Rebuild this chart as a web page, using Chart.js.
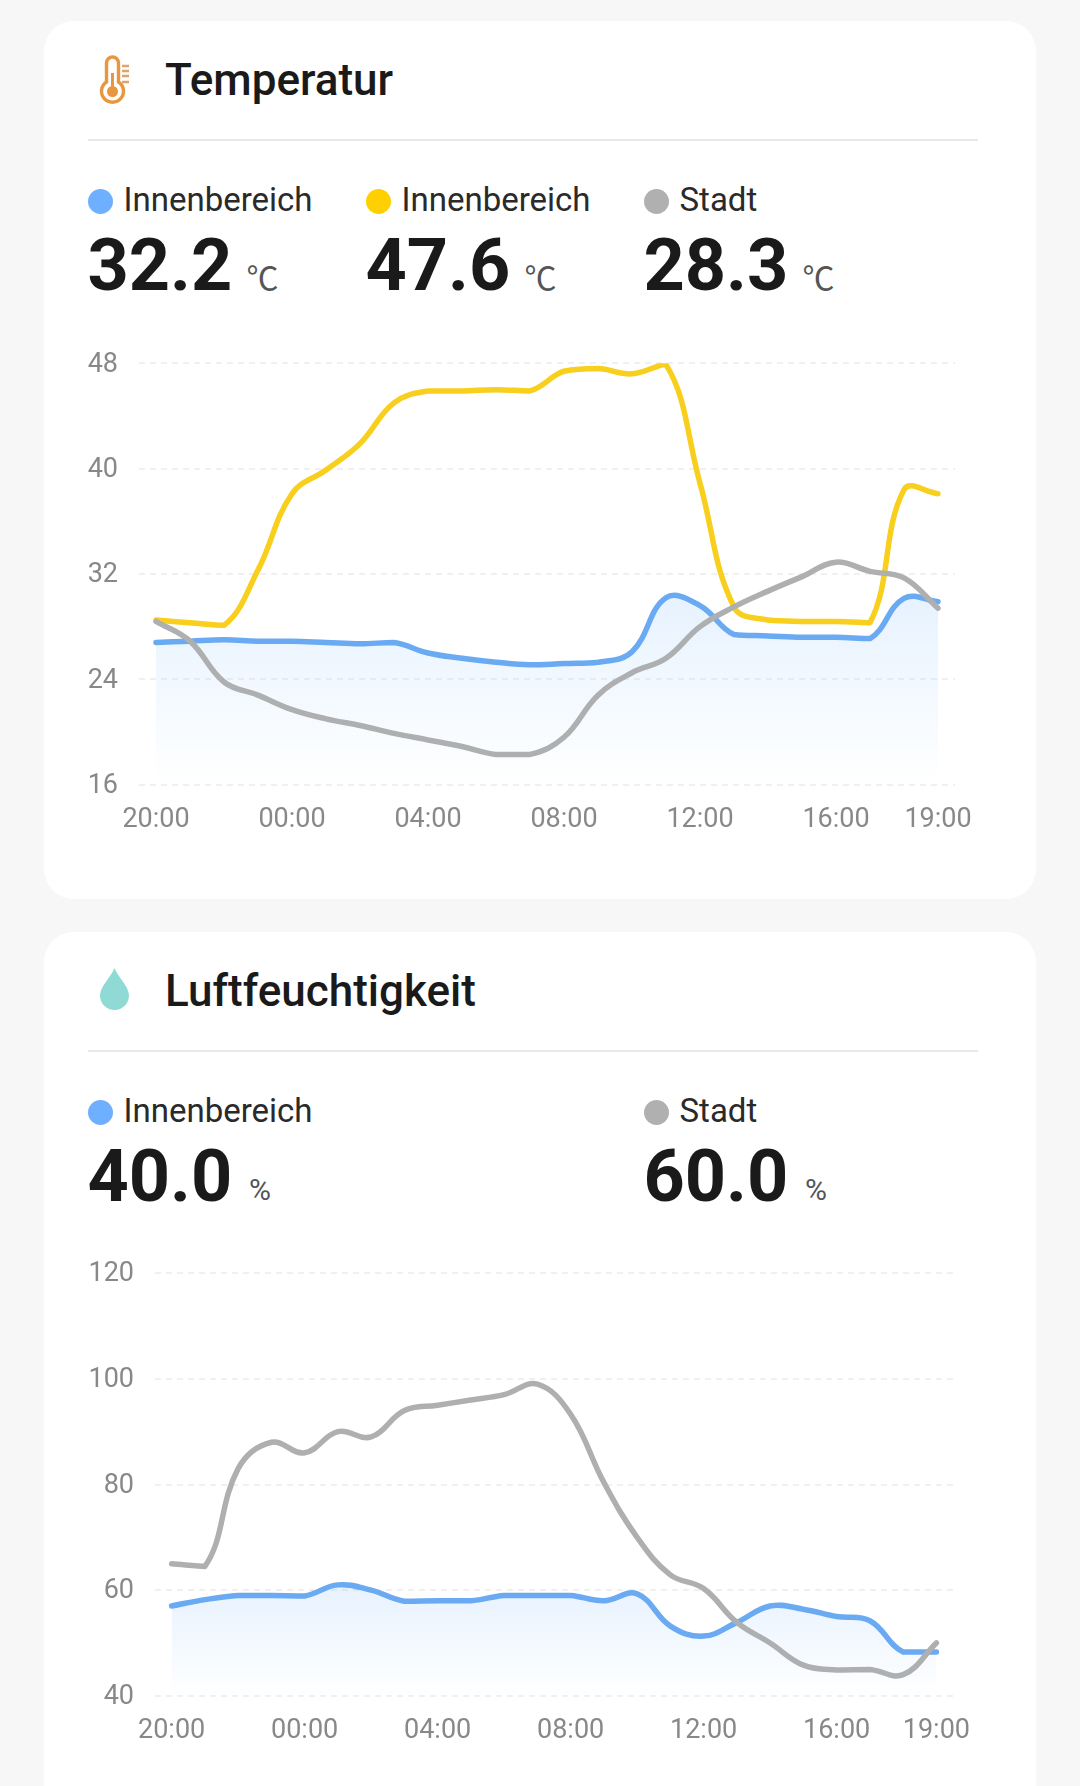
<!DOCTYPE html>
<html lang="de">
<head>
<meta charset="utf-8">
<title>Temperatur und Luftfeuchtigkeit</title>
<script src="https://cdn.jsdelivr.net/npm/chart.js@4"></script>
<style>
html,body{margin:0;padding:0;background:#f7f7f7;width:1080px;height:1786px;overflow:hidden;font-family:Roboto,sans-serif}
.card{position:absolute;left:44px;width:992px;background:#fff;border-radius:30px}
#c1{top:21px;height:878px}
#c2{top:932px;height:900px}
.abs{position:absolute;white-space:nowrap}
.title{left:121px;top:33px;font-size:44px;line-height:52px;font-weight:500;color:#1a1a1a}
.sep{left:44px;top:118px;width:890px;height:2px;background:#e9e9e9}
.dot{width:25px;height:25px;border-radius:50%;top:168px}
.leg{top:158px;font-size:33px;line-height:42px;color:#2a2a2a}
.val{top:203px;font-size:72px;line-height:84px;font-weight:700;color:#1a1a1a}
.unit{top:235px;font-size:32px;line-height:40px;color:#555;font-family:"Noto Sans CJK SC",Roboto,sans-serif}
.pct{top:240px;font-size:30px;line-height:36px;color:#555}
canvas{position:absolute;left:0}
</style>
</head>
<body>
<div class="card" id="c1">
  <svg class="abs" style="left:54px;top:34px" width="36" height="54" viewBox="0 0 36 54">
    <path d="M8.5 8a6 6 0 0 1 12 0v19a11 11 0 1 1-12 0z" fill="none" stroke="#e8963f" stroke-width="3.4"/>
    <circle cx="14.5" cy="36.5" r="5.5" fill="#e8963f"/><rect x="13" y="18" width="3" height="16" fill="#e8963f"/>
    <path d="M24 11h7M24 16h7M24 21h7M24 27h7" stroke="#dba56c" stroke-width="2.4"/>
  </svg>
  <div class="abs title">Temperatur</div>
  <div class="abs sep"></div>
  <div class="abs dot" style="left:44px;background:#6eb0ff"></div><div class="abs leg" style="left:79.5px">Innenbereich</div>
  <div class="abs val" style="left:43.5px">32.2</div><div class="abs unit" style="left:202.5px">℃</div>
  <div class="abs dot" style="left:322px;background:#ffd000"></div><div class="abs leg" style="left:357.5px">Innenbereich</div>
  <div class="abs val" style="left:321.5px">47.6</div><div class="abs unit" style="left:480.5px">℃</div>
  <div class="abs dot" style="left:600px;background:#b0b0b0"></div><div class="abs leg" style="left:635.5px">Stadt</div>
  <div class="abs val" style="left:599.5px">28.3</div><div class="abs unit" style="left:758.5px">℃</div>
  <canvas id="tempChart"></canvas>
</div>
<div class="card" id="c2">
  <svg class="abs" style="left:54px;top:34px" width="36" height="46" viewBox="0 0 36 46">
    <path d="M16.5 2C14 10 2 20 2 29.5a14.5 14.5 0 0 0 29 0C31 20 19 10 16.5 2z" fill="#90dad6"/>
  </svg>
  <div class="abs title">Luftfeuchtigkeit</div>
  <div class="abs sep"></div>
  <div class="abs dot" style="left:44px;background:#6eb0ff"></div><div class="abs leg" style="left:79.5px">Innenbereich</div>
  <div class="abs val" style="left:43.5px">40.0</div><div class="abs pct" style="left:205px">%</div>
  <div class="abs dot" style="left:600px;background:#b0b0b0"></div><div class="abs leg" style="left:635.5px">Stadt</div>
  <div class="abs val" style="left:599.5px">60.0</div><div class="abs pct" style="left:761px">%</div>
  <canvas id="humChart"></canvas>
</div>
<script>
const hours = ["20:00","21:00","22:00","23:00","00:00","01:00","02:00","03:00","04:00","05:00","06:00","07:00","08:00","09:00","10:00","11:00","12:00","13:00","14:00","15:00","16:00","17:00","18:00","19:00"];
const shownHours = ["20:00","00:00","04:00","08:00","12:00","16:00","19:00"];

const tempTicks = [16,24,32,40,48];
const tempIndoorA = [26.8,26.9,27,26.9,26.9,26.8,26.7,26.8,26,25.6,25.3,25.1,25.2,25.3,26.1,30.2,29.6,27.4,27.3,27.2,27.2,27.1,30.15,29.9];
const tempIndoorB = [28.5,28.3,28.1,32.3,38.1,39.9,41.9,45,45.9,45.9,46,45.9,47.4,47.6,47.2,47.9,38.9,29.5,28.5,28.4,28.4,28.3,38.4,38.1];
const tempCity = [28.4,26.9,23.8,22.8,21.7,21,20.5,19.9,19.4,18.9,18.3,18.3,19.6,22.8,24.5,25.6,28,29.5,30.7,31.8,32.9,32.2,31.7,29.4];

const humTicks = [40,60,80,100,120];
const humIndoor = [57,58.2,59,59,58.9,61,60,57.9,58,58,59,59,59,58,59.3,53.2,51.3,53.9,57,56.4,55,54.2,48.3,48.3];
const humCity = [65,64.5,83,88,86,90,89,94,95,96,97,99,93.3,80.4,70,62.9,60.3,53.9,50,45.8,44.9,45,44,50];

const BLUE="#6aaaf2", YELLOW="#f8cf1c", GRAY="#aeafb1";
const FLAT_RUN_PX=2.7;

/* Keep nearly flat runs flat: in such a run the curve handles stay between the two points. */
const keepFlatRuns={
  id:"keepFlatRuns",
  afterDatasetsUpdate(chart){
    const between=(v,a,b)=>Math.max(Math.min(v,Math.max(a,b)),Math.min(a,b));
    chart.getSortedVisibleDatasetMetas().forEach(meta=>{
      meta.dataset.updateControlPoints(chart.chartArea,"x");
      const pts=meta.data;
      for(let i=0;i<pts.length-1;i++){
        const p=pts[i], q=pts[i+1];
        if(Math.abs(p.y-q.y)<=FLAT_RUN_PX){
          p.cp2y=between(p.cp2y,p.y,q.y);
          q.cp1y=between(q.cp1y,p.y,q.y);
        }
      }
    });
  }
};

function lineSet(values,color,filled,order){
  return {
    data:values,order,borderColor:color,borderWidth:5.5,pointRadius:0,
    tension:0.4,borderCapStyle:"round",borderJoinStyle:"round",
    fill:filled?"start":false,
    backgroundColor:filled?(ctx=>{
      const {chart}=ctx; const a=chart.chartArea; if(!a) return "transparent";
      const top=chart.scales.y.getPixelForValue(Math.max(...values));
      const g=chart.ctx.createLinearGradient(0,top,0,a.bottom);
      g.addColorStop(0,"rgba(106,176,255,0.16)");
      g.addColorStop(1,"rgba(106,176,255,0)");
      return g;
    }):"transparent"
  };
}
function build(id,yTicks,sets,geom){
  const cv=document.getElementById(id);
  cv.width=geom.w; cv.height=geom.h; cv.style.width=geom.w+"px"; cv.style.height=geom.h+"px"; cv.style.top=geom.top+"px";
  new Chart(cv,{
    type:"line",
    data:{labels:hours,datasets:sets},
    plugins:[keepFlatRuns],
    options:{
      responsive:false,animation:false,
      layout:{padding:geom.pad},
      plugins:{legend:{display:false},tooltip:{enabled:false}},
      scales:{
        x:{offset:true,grid:{display:false},border:{display:false},
          afterFit:s=>{s.height=geom.xh},
          ticks:{autoSkip:false,maxRotation:0,padding:geom.xpad,color:"#888",font:{family:"Roboto",size:27},
            callback:function(v){const l=this.getLabelForValue(v);return shownHours.includes(l)?l:""}}},
        y:{min:yTicks[0],max:yTicks[yTicks.length-1],
          afterBuildTicks:s=>{s.ticks=yTicks.map(v=>({value:v}))},
          afterFit:s=>{s.width=geom.yw},
          grid:{color:"#f0f0f0",lineWidth:2,drawTicks:false,tickLength:0},
          border:{display:false,dash:[6,5]},
          ticks:{padding:21,color:"#888",font:{family:"Roboto",size:27,lineHeight:"3px"},
            callback:v=>["",String(v)]}}
      }
    }
  });
}
build("tempChart",tempTicks,[
  lineSet(tempCity,GRAY,false,1),
  lineSet(tempIndoorB,YELLOW,false,2),
  lineSet(tempIndoorA,BLUE,true,3)
],{top:300,w:992,h:560,yw:51,xh:60,xpad:11.5,pad:{left:44,right:81,top:42.3,bottom:36.3}});
build("humChart",humTicks,[
  lineSet(humCity,GRAY,false,1),
  lineSet(humIndoor,BLUE,true,2)
],{top:300,w:992,h:560,yw:67,xh:60,xpad:11.5,pad:{left:44,right:83,top:41.2,bottom:36.2}});
</script>
</body>
</html>
